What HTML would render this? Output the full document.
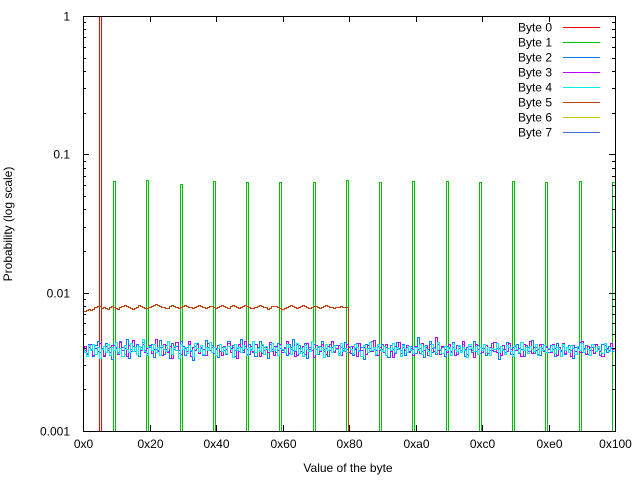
<!DOCTYPE html>
<html><head><meta charset="utf-8"><title>Byte probability</title>
<style>
html,body{margin:0;padding:0;background:#fff;}
svg{display:block;font-family:"Liberation Sans",Arial,sans-serif;}
</style></head>
<body>
<svg id="chart" width="640" height="480" viewBox="0 0 640 480" xmlns="http://www.w3.org/2000/svg">
<rect x="0" y="0" width="640" height="480" fill="#fff"/>
<g id="series"></g>
<g id="axes"></g>
<text x="12" y="224" font-size="12" text-anchor="middle" transform="rotate(-90 12 224)">Probability (log scale)</text>
<text x="348" y="472" font-size="12" text-anchor="middle">Value of the byte</text>
<g id="legend"></g>
</svg>
<script>
// ---- data ----
const seriesNames = ["Byte 0","Byte 1","Byte 2","Byte 3","Byte 4","Byte 5","Byte 6","Byte 7"];
const seriesColors = ["#ff0000","#00c000","#0080ff","#c000ff","#00eeee","#c04000","#c8c800","#4169e1"];
const xTickValues = [0,32,64,96,128,160,192,224,256];
const xTickLabels = ["0x0","0x20","0x40","0x60","0x80","0xa0","0xc0","0xe0","0x100"];
const yTickValues = [1,0.1,0.01,0.001];
const yTickLabels = ["1","0.1","0.01","0.001"];
// Byte 0: single value
const byte0Values = [8];
const byte0Probs = [1.0];
// Byte 1: spikes
const byte1Values = [0x0f,0x1f,0x2f,0x3f,0x4f,0x5f,0x6f,0x7f,0x8f,0x9f,0xaf,0xbf,0xcf,0xdf,0xef,0xff];
const byte1Probs = [0.0640,0.0655,0.0610,0.0640,0.0630,0.0630,0.0630,0.0655,0.0630,0.0640,0.0640,0.0630,0.0640,0.0630,0.0640,0.0630];
// Byte 2,3,4 noisy ~1/256 (units of 1e-5, deviation from 390 stored at 1/3 scale)
const noiseCenter = 390;
const noiseGain = 3;
const byte2Probs = [395,388,380,402,391,376,399,410,385,392,378,405,388,396,371,400,392,384,409,396,380,413,372,390,398,386,401,377,394,407,389,383,
396,402,375,391,388,412,394,381,399,386,372,404,391,397,383,408,390,378,395,401,387,369,398,405,386,392,379,411,394,388,400,382,
391,375,403,396,388,381,409,392,400,376,393,386,414,389,397,380,402,391,385,377,396,408,383,394,390,372,401,387,398,384,405,392,
389,396,378,402,391,415,386,379,399,393,384,405,372,396,388,401,390,381,397,409,386,392,376,403,394,387,400,382,395,389,406,391,
385,398,379,392,404,388,395,371,401,393,386,410,390,378,397,389,402,384,396,375,399,391,383,407,392,388,401,379,394,386,398,390,
382,419,393,387,374,400,391,409,384,396,380,403,389,395,377,398,392,385,406,390,381,397,388,402,376,394,391,385,410,387,399,383,
393,401,378,395,389,404,386,392,371,398,391,385,407,394,380,396,389,402,383,391,376,400,394,387,412,382,396,390,379,403,388,395,
384,399,391,377,405,390,386,397,381,394,400,388,373,396,392,407,385,391,399,380,395,388,402,386,393,379,401,390,384,398,392,387];
const byte3Probs = [388,397,382,394,401,379,392,386,405,390,377,398,392,384,400,388,395,381,407,389,393,376,400,386,412,394,380,397,388,403,385,392,
399,383,391,414,387,396,379,402,390,385,397,372,394,406,389,381,398,392,386,409,377,395,388,401,383,396,391,378,404,389,396,382,
393,400,386,378,398,391,405,384,394,388,372,401,396,385,409,390,380,397,387,403,392,376,399,388,395,384,406,391,379,397,388,402,
385,393,410,382,396,389,377,401,392,386,398,380,405,391,388,374,399,394,386,403,390,381,397,388,408,384,393,399,379,392,387,401,
394,383,398,390,376,404,389,395,381,399,392,386,411,388,378,396,391,384,402,393,387,375,398,390,406,382,395,388,400,385,392,379,
397,390,383,405,388,395,378,401,392,386,420,389,380,398,391,384,403,387,396,379,400,393,385,408,390,381,397,388,374,402,391,396,
385,393,400,382,396,389,407,384,392,378,399,391,386,404,390,381,397,388,393,376,401,394,386,410,383,395,389,380,403,392,387,398,
390,384,401,393,379,396,388,405,382,394,391,377,400,387,396,384,408,392,381,398,389,395,383,402,391,386,377,399,393,388,404,390];
const byte4Probs = [392,384,376,399,388,403,381,395,372,390,397,385,401,379,394,388,406,383,392,377,399,390,384,404,387,395,380,398,391,413,386,379,
397,389,402,384,395,378,400,391,386,409,393,381,398,388,372,403,390,396,383,400,388,377,405,392,386,399,381,394,389,407,385,396,
379,392,401,387,395,382,398,390,375,403,388,394,385,400,392,379,396,389,410,384,393,387,401,380,397,391,386,404,388,395,378,399,
391,385,402,394,380,397,388,405,383,392,377,400,390,386,408,393,381,398,389,395,374,402,388,396,384,399,391,379,404,387,393,385,
398,390,382,401,394,387,376,399,392,385,406,389,395,380,402,391,386,397,379,393,388,404,384,396,390,377,400,393,385,398,389,382,
395,388,403,381,397,390,386,377,401,393,385,407,390,382,398,388,394,379,403,391,386,399,384,395,389,374,402,392,387,397,381,394,
389,401,384,396,378,393,390,405,385,398,388,381,400,394,387,376,399,391,384,406,389,395,382,397,391,386,403,379,394,388,400,385,
393,387,399,382,396,390,377,403,389,394,385,400,392,381,397,388,405,384,393,390,378,401,395,386,398,389,383,404,391,387,396,392];
// Byte 5: ~1/128 over 0x00..0x7f (units of 1e-5)
const byte5Probs = [740,735,755,768,752,760,790,800,795,780,788,772,760,785,800,790,776,768,782,798,812,800,785,770,758,772,790,808,795,786,780,772,
784,800,816,830,812,798,790,782,772,780,796,808,800,792,780,786,800,818,806,794,788,776,790,804,812,800,786,774,790,802,796,784,
778,792,806,820,800,790,780,796,808,798,785,776,790,805,812,800,792,780,772,788,800,815,805,792,782,768,780,796,804,796,788,770,
760,778,792,802,810,798,786,776,790,806,816,800,788,780,794,806,798,788,776,784,796,808,800,790,782,776,784,790,796,788,782,790];
</script>
<script>
const NS = "http://www.w3.org/2000/svg";
const L = 83, R = 615, T = 16, B = 431;
const xMin = 0, xMax = 256, yMinLog = -3, yMaxLog = 0;
function xScale(v){ return L + (v - xMin) / (xMax - xMin) * (R - L); }
function yScale(p){
  if (p <= 0) return B;
  let y = T + (yMaxLog - Math.log10(p)) / (yMaxLog - yMinLog) * (B - T);
  return Math.min(B, Math.max(T, y));
}
function px(v){ return Math.round(v) + 0.5; }
function mk(tag, attrs, parent){
  const e = document.createElementNS(NS, tag);
  for (const k in attrs) e.setAttribute(k, attrs[k]);
  parent.appendChild(e);
  return e;
}
const seriesG = document.getElementById("series");
const axesG = document.getElementById("axes");
const legendG = document.getElementById("legend");

function fullArray(vals, probs){
  const a = new Array(256).fill(0);
  vals.forEach((v,i)=>{ a[v] = probs[i]; });
  return a;
}
function stepPath(arr){
  let d = "";
  for (let i = 0; i < 256; i++){
    const p = i < arr.length ? arr[i] : 0;
    const x0 = px(Math.max(L, xScale(i - 0.5))), x1 = px(Math.min(R - 1, xScale(i + 0.5)));
    const y = px(yScale(p));
    d += (i === 0 ? "M" : "L") + x0 + " " + y + " L" + x1 + " " + y + " ";
  }
  return d;
}
function noise(v){ return (noiseCenter + (v - noiseCenter) * noiseGain) * 1e-5; }
const seriesData = [
  fullArray(byte0Values, byte0Probs),
  fullArray(byte1Values, byte1Probs),
  byte2Probs.map(noise),
  byte3Probs.map(noise),
  byte4Probs.map(noise),
  byte5Probs.map(v => v * 1e-5)
];
seriesData.forEach((arr, si) => {
  const p = mk("path", {d: stepPath(arr), fill: "none", stroke: seriesColors[si], "stroke-width": 1, "shape-rendering": "crispEdges"}, seriesG);
  
  
});

const frame = mk("rect", {x: L + 0.5, y: T + 0.5, width: R - L, height: B - T, fill: "none", stroke: "#000", "stroke-width": 1, "shape-rendering": "crispEdges"}, axesG);



yTickValues.forEach((v, i) => {
  const y = px(yScale(v));
  const t1 = mk("line", {x1: L, x2: L + 6, y1: y, y2: y, stroke: "#000", "shape-rendering": "crispEdges"}, axesG);
  
  
  const t2 = mk("line", {x1: R, x2: R - 6, y1: y, y2: y, stroke: "#000", "shape-rendering": "crispEdges"}, axesG);
  
  
  const lb = mk("text", {x: L - 13, y: y + 4, "font-size": 12, "text-anchor": "end"}, axesG);
  lb.textContent = yTickLabels[i];
  
  
  if (i < yTickValues.length - 1) {
    for (let m = 2; m <= 9; m++){
      const ym = px(yScale(v / 10 * m));
      const a = mk("line", {x1: L, x2: L + 3, y1: ym, y2: ym, stroke: "#000", "shape-rendering": "crispEdges"}, axesG);
      
      
      const b = mk("line", {x1: R, x2: R - 3, y1: ym, y2: ym, stroke: "#000", "shape-rendering": "crispEdges"}, axesG);
      
      
    }
  }
});
xTickValues.forEach((v, i) => {
  const x = px(xScale(v));
  const t1 = mk("line", {x1: x, x2: x, y1: B, y2: B - 6, stroke: "#000", "shape-rendering": "crispEdges"}, axesG);
  
  
  const t2 = mk("line", {x1: x, x2: x, y1: T, y2: T + 6, stroke: "#000", "shape-rendering": "crispEdges"}, axesG);
  
  
  const lb = mk("text", {x: x, y: B + 17, "font-size": 12, "text-anchor": "middle"}, axesG);
  lb.textContent = xTickLabels[i];
  
  
});
seriesNames.forEach((n, i) => {
  const y = 27.5 + i * 15;
  const g = mk("g", {}, legendG);
  
  
  const t = mk("text", {x: 552, y: y + 4, "font-size": 12, "text-anchor": "end"}, g);
  t.textContent = n;
  
  
  const l = mk("line", {x1: 563, x2: 600, y1: y, y2: y, stroke: seriesColors[i], "stroke-width": 1, "shape-rendering": "crispEdges"}, g);
  
  
});
</script>
</body></html>
